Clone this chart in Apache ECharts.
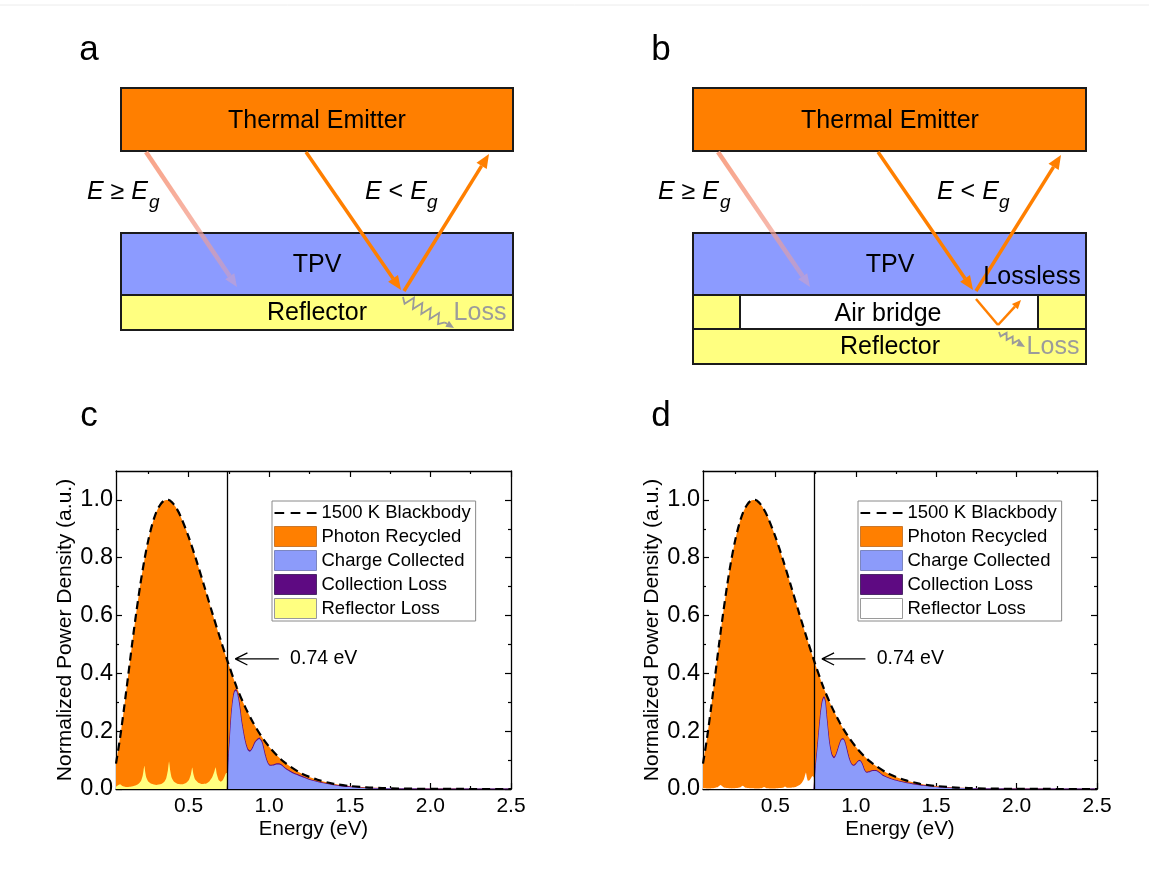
<!DOCTYPE html>
<html>
<head>
<meta charset="utf-8">
<script src="https://cdn.jsdelivr.net/npm/echarts@6/dist/echarts.min.js"></script>
<style>
  html, body { margin: 0; padding: 0; background: #fff; }
  #fig { width: 1149px; height: 872px; }
</style>
</head>
<body>
<div id="fig"></div>
<script>
// ---------- spectral data (normalized power density vs photon energy, eV) ----------
const BANDGAP = 0.74;

const energyBB = [0.05,0.075,0.1,0.125,0.15,0.175,0.2,0.225,0.25,0.275,0.3,0.325,0.35,0.375,0.4,0.425,0.45,0.5,0.55,0.6,0.65,0.7,0.74,0.8,0.85,0.9,0.95,1.0,1.05,1.1,1.2,1.3,1.4,1.5,1.6,1.7,1.8,2.0,2.2,2.5];
const blackbody = [0.088,0.176,0.28,0.39,0.502,0.607,0.704,0.789,0.86,0.916,0.958,0.984,0.998,1.0,0.99,0.971,0.944,0.873,0.788,0.697,0.604,0.514,0.445,0.35,0.285,0.23,0.184,0.146,0.115,0.09,0.054,0.032,0.018,0.0104,0.0058,0.0032,0.0018,0.0005,0.0001,0];

// panel c: TPV cell directly on the reflector
const energyCollectC = [0.74,0.745,0.75,0.757,0.765,0.775,0.785,0.794,0.803,0.815,0.83,0.85,0.865,0.881,0.895,0.915,0.939,0.955,0.975,0.99,1.005,1.025,1.045,1.063,1.08,1.1,1.129,1.155,1.179,1.21,1.253,1.3,1.35,1.4,1.45,1.5,1.55,1.6,1.7,1.8,2.0,2.5];
const chargeCollectedC = [0,0.06,0.12,0.18,0.25,0.305,0.335,0.34,0.327,0.29,0.227,0.165,0.137,0.129,0.138,0.162,0.173,0.16,0.115,0.09,0.08,0.081,0.085,0.085,0.08,0.07,0.06,0.052,0.047,0.04,0.031,0.024,0.018,0.013,0.009,0.0065,0.0045,0.003,0.0015,0.0008,0.0002,0];
const collectionLossC = [0,0.002,0.003,0.003,0.004,0.004,0.004,0.004,0.004,0.004,0.003,0.003,0.003,0.003,0.003,0.003,0.003,0.003,0.003,0.002,0.002,0.002,0.002,0.002,0.002,0.002,0.002,0.002,0.002,0.002,0.001,0.001,0.001,0.001,0.001,0.001,0,0,0,0,0,0];
const energyReflC = [0.05,0.06,0.075,0.09,0.11,0.14,0.17,0.19,0.205,0.215,0.221,0.226,0.231,0.238,0.25,0.27,0.3,0.33,0.35,0.362,0.372,0.379,0.386,0.395,0.41,0.435,0.46,0.485,0.503,0.515,0.523,0.53,0.54,0.56,0.585,0.61,0.63,0.648,0.661,0.668,0.675,0.688,0.7,0.712,0.725,0.733,0.739,0.74];
const reflectorLossC = [0.008,0.012,0.016,0.01,0.007,0.008,0.012,0.018,0.028,0.045,0.065,0.08,0.06,0.04,0.026,0.018,0.014,0.017,0.025,0.038,0.065,0.095,0.065,0.04,0.025,0.017,0.016,0.021,0.032,0.052,0.074,0.052,0.034,0.022,0.017,0.019,0.027,0.042,0.062,0.075,0.052,0.03,0.025,0.03,0.045,0.055,0.055,0];

// panel d: TPV cell on an air bridge above the reflector
const energyCollectD = [0.74,0.75,0.765,0.78,0.792,0.802,0.81,0.82,0.835,0.85,0.865,0.88,0.9,0.912,0.922,0.935,0.955,0.97,0.985,1.0,1.015,1.026,1.04,1.055,1.068,1.085,1.105,1.126,1.145,1.165,1.192,1.23,1.275,1.32,1.37,1.42,1.47,1.52,1.6,1.7,1.8,2.0,2.5];
const chargeCollectedD = [0,0.07,0.16,0.25,0.3,0.315,0.3,0.24,0.16,0.118,0.106,0.12,0.155,0.17,0.171,0.155,0.11,0.088,0.08,0.085,0.095,0.097,0.085,0.063,0.056,0.058,0.062,0.062,0.056,0.047,0.04,0.032,0.025,0.02,0.015,0.011,0.0078,0.0055,0.0032,0.0016,0.0008,0.0002,0];
const collectionLossD = [0,0.002,0.003,0.004,0.004,0.004,0.004,0.004,0.003,0.003,0.003,0.003,0.003,0.003,0.003,0.003,0.003,0.002,0.002,0.002,0.002,0.002,0.002,0.002,0.002,0.002,0.002,0.002,0.002,0.002,0.001,0.001,0.001,0.001,0.001,0.001,0,0,0,0,0,0,0];
const energyReflD = [0.05,0.1,0.14,0.16,0.18,0.23,0.28,0.297,0.315,0.37,0.415,0.43,0.445,0.5,0.545,0.56,0.575,0.62,0.65,0.665,0.678,0.686,0.69,0.696,0.703,0.712,0.722,0.73,0.739,0.74];
const reflectorLossD = [0.003,0.002,0.006,0.014,0.005,0.002,0.005,0.011,0.004,0.002,0.003,0.007,0.003,0.002,0.004,0.009,0.004,0.006,0.014,0.022,0.035,0.05,0.057,0.04,0.028,0.03,0.038,0.045,0.04,0];

// axis ticks
const xMajor = [0.5, 1.0, 1.5, 2.0, 2.5];
const xMinor = [0.25, 0.75, 1.25, 1.75, 2.25];
const yMajor = [0, 0.2, 0.4, 0.6, 0.8, 1.0];
const yMinor = [0.1, 0.3, 0.5, 0.7, 0.9];

// bandgap annotation (arrow + text), in data units
const arrowY = 0.45, arrowTip = 0.79, arrowTail = 1.06, headDx = 0.075, headDy = 0.021, noteX = 1.13;

// ---------- styling ----------
const FONT = '"Liberation Sans", Arial, Helvetica, sans-serif';
const ORANGE = '#FF7F00', BLUE = '#8C9BFA', PURPLE = '#5E0A82', YELLOW = '#FFFF80';
const TPV_BLUE = '#8C9BFF';

const zip = (xs, ys) => xs.map((x, i) => [x, ys[i]]);
// upper edge of the collection-loss band sits on top of the collected part
const addUp = (a, b) => a.map((v, i) => v + b[i]);

const chart = echarts.init(document.getElementById('fig'), null, { renderer: 'canvas' });

// ---------- axes: major/minor ticks mirrored on all four sides ----------
function xAxes(g) {
  const base = { type: 'value', gridIndex: g, min: 0.05, max: 2.5, splitLine: { show: false } };
  const line = { show: true, onZero: false, lineStyle: { color: '#000', width: 1.3 } };
  const tk = (vals, len) => ({ show: true, inside: true, length: len, customValues: vals, lineStyle: { color: '#000', width: 1.2 } });
  return [
    Object.assign({}, base, {
      position: 'bottom', axisLine: line, axisTick: tk(xMajor, 6),
      axisLabel: { show: true, customValues: xMajor, formatter: v => v.toFixed(1), margin: 7, fontSize: 21, color: '#000', fontFamily: FONT },
      name: 'Energy (eV)', nameLocation: 'middle', nameGap: 30,
      nameTextStyle: { fontSize: 20.5, color: '#000', fontFamily: FONT }
    }),
    Object.assign({}, base, { position: 'bottom', axisLine: { show: false, onZero: false }, axisTick: tk(xMinor, 3), axisLabel: { show: false } }),
    Object.assign({}, base, { position: 'top', axisLine: line, axisTick: tk(xMajor, 6), axisLabel: { show: false } }),
    Object.assign({}, base, { position: 'top', axisLine: { show: false, onZero: false }, axisTick: tk(xMinor, 3), axisLabel: { show: false } })
  ];
}
function yAxes(g) {
  const base = { type: 'value', gridIndex: g, min: 0, max: 1.1, splitLine: { show: false } };
  const line = { show: true, onZero: false, lineStyle: { color: '#000', width: 1.3 } };
  const tk = (vals, len) => ({ show: true, inside: true, length: len, customValues: vals, lineStyle: { color: '#000', width: 1.2 } });
  return [
    Object.assign({}, base, {
      position: 'left', axisLine: line, axisTick: tk(yMajor, 6),
      axisLabel: { show: true, customValues: yMajor, formatter: v => v.toFixed(1), margin: 3, fontSize: 23.5, color: '#000', fontFamily: FONT },
      name: 'Normalized Power Density (a.u.)', nameLocation: 'middle', nameRotate: 90, nameGap: 40,
      nameTextStyle: { fontSize: 21, color: '#000', fontFamily: FONT }
    }),
    Object.assign({}, base, { position: 'left', axisLine: { show: false, onZero: false }, axisTick: tk(yMinor, 3), axisLabel: { show: false } }),
    Object.assign({}, base, { position: 'right', axisLine: line, axisTick: tk(yMajor, 6), axisLabel: { show: false } }),
    Object.assign({}, base, { position: 'right', axisLine: { show: false, onZero: false }, axisTick: tk(yMinor, 3), axisLabel: { show: false } })
  ];
}

// ---------- series for one spectrum panel ----------
function panelSeries(g, p) {
  const xi = 4 * g, yi = 4 * g;
  const common = { type: 'line', xAxisIndex: xi, yAxisIndex: yi, symbol: 'none', showSymbol: false, silent: true, animation: false };
  const area = (name, data, color, z, extra) => Object.assign({}, common, {
    name, data, z,
    lineStyle: { width: 0, color },
    itemStyle: { color },
    areaStyle: { color, opacity: 1 }
  }, extra || {});
  return [
    area('Photon Recycled', zip(energyBB, blackbody), ORANGE, 2, { smooth: 0.3 }),
    area('Reflector Loss', zip(p.energyRefl, p.reflectorLoss), p.reflColor, 3, { smooth: 0.15 }),
    area('Collection Loss', zip(p.energyCollect, addUp(p.chargeCollected, p.collectionLoss)), PURPLE, 3,
      { smooth: 0.25, lineStyle: { width: 1, color: PURPLE } }),
    area('Charge Collected', zip(p.energyCollect, p.chargeCollected), BLUE, 4, { smooth: 0.25 }),
    Object.assign({}, common, {
      name: '1500 K Blackbody', z: 6, smooth: 0.3,
      data: zip(energyBB, blackbody),
      itemStyle: { color: '#000' },
      lineStyle: { color: '#000', width: 2.2, type: [8, 5] },
      markLine: {
        silent: true, symbol: ['none', 'none'], label: { show: false },
        lineStyle: { color: '#000', width: 1.3, type: 'solid' },
        data: [{ xAxis: BANDGAP }]
      }
    }),
    // arrow pointing at the bandgap
    Object.assign({}, common, {
      name: 'bandgap-arrow', z: 7,
      data: [[arrowTail, arrowY], [arrowTip, arrowY], [arrowTip + headDx, arrowY + headDy], [arrowTip, arrowY], [arrowTip + headDx, arrowY - headDy]],
      lineStyle: { color: '#000', width: 1.3 }
    }),
    {
      type: 'scatter', name: 'bandgap-note', xAxisIndex: xi, yAxisIndex: yi, z: 7, silent: true, animation: false,
      symbolSize: 0, data: [[noteX, arrowY]], itemStyle: { color: '#000' },
      label: { show: true, position: 'right', distance: 0, formatter: () => BANDGAP.toFixed(2) + ' eV',
               fontSize: 19.5, color: '#000', opacity: 1, fontFamily: FONT }
    }
  ];
}

function legendFor(left, reflColor) {
  const sw = (name, color, border) => ({ name, icon: 'rect', itemStyle: { color, borderColor: border, borderWidth: 1 } });
  return {
    left, top: 501, orient: 'vertical', selectedMode: false, z: 20,
    itemWidth: 42, itemHeight: 20, itemGap: 3, padding: [2, 5, 2, 2],
    borderColor: '#8a8a8a', borderWidth: 1, backgroundColor: '#fff',
    textStyle: { fontSize: 18.5, color: '#000', fontFamily: FONT, lineHeight: 20 },
    data: [
      { name: '1500 K Blackbody', icon: 'path://M0,0h9v2h-9z M15,0h9v2h-9z M30,0h9v2h-9z', itemStyle: { color: '#000', borderWidth: 0 } },
      sw('Photon Recycled', ORANGE, '#c9782e'),
      sw('Charge Collected', BLUE, '#7c86c0'),
      sw('Collection Loss', PURPLE, '#4a2a66'),
      sw('Reflector Loss', reflColor, '#9a9a9a')
    ]
  };
}

// ---------- schematic diagrams (panels a, b) ----------
const G = [];
function box(x, y, w, h, fill) {
  G.push({ type: 'rect', z: 1, shape: { x, y, width: w, height: h }, style: { fill, stroke: '#1b1b1b', lineWidth: 2 } });
}
function txt(text, x, y, opt) {
  G.push({ type: 'text', z: 6, x, y, style: Object.assign({ text, fill: '#000', fontSize: 25, fontFamily: FONT, align: 'center', verticalAlign: 'middle' }, opt || {}) });
}
function arrow(x1, y1, x2, y2, color, width, headLen, headW, z) {
  const a = Math.atan2(y2 - y1, x2 - x1);
  const bx = x2 - headLen * Math.cos(a), by = y2 - headLen * Math.sin(a);
  const px = -Math.sin(a) * headW, py = Math.cos(a) * headW;
  G.push({ type: 'line', z: z || 3, shape: { x1, y1, x2: bx, y2: by }, style: { stroke: color, lineWidth: width } });
  G.push({ type: 'polygon', z: z || 3, shape: { points: [[x2, y2], [bx + px, by + py], [bx - px, by - py]] }, style: { fill: color } });
}
function wavyArrow(x1, y1, x2, y2, halfWaves, amp, color) {
  const L = Math.hypot(x2 - x1, y2 - y1), ux = (x2 - x1) / L, uy = (y2 - y1) / L;
  const px = -uy, py = ux, span = L * 0.82;
  const pts = [[x1, y1]];
  for (let i = 1; i <= halfWaves; i++) {
    const t = span * i / (halfWaves + 1), s = (i % 2 ? 1 : -1) * amp;
    pts.push([x1 + ux * t + px * s, y1 + uy * t + py * s]);
  }
  const ex = x1 + ux * span, ey = y1 + uy * span;
  pts.push([ex, ey]);
  G.push({ type: 'polyline', z: 4, shape: { points: pts }, style: { stroke: color, lineWidth: 1.8, fill: null } });
  arrow(ex, ey, x2, y2, color, 1.8, 8, 3.5, 4);
}
function fadedArrow(x1, y1, x2, y2) {
  const grad = new echarts.graphic.LinearGradient(x1, y1, x2, y2, [
    { offset: 0, color: 'rgba(248,158,128,0.95)' },
    { offset: 0.55, color: 'rgba(244,158,140,0.75)' },
    { offset: 1, color: 'rgba(230,160,170,0.35)' }
  ], true);
  const a = Math.atan2(y2 - y1, x2 - x1), hl = 13, hw = 5.5;
  const bx = x2 - hl * Math.cos(a), by = y2 - hl * Math.sin(a);
  const px = -Math.sin(a) * hw, py = Math.cos(a) * hw;
  G.push({ type: 'line', z: 3, shape: { x1, y1, x2: bx, y2: by }, style: { stroke: grad, lineWidth: 4.5 } });
  G.push({ type: 'polygon', z: 3, shape: { points: [[x2, y2], [bx + px, by + py], [bx - px, by - py]] }, style: { fill: 'rgba(225,165,185,0.45)' } });
}
function energyLabel(x, y, rel) {
  G.push({ type: 'text', z: 6, x, y, style: {
    text: '{i|E} ' + rel + ' {i|E}', fill: '#000', fontSize: 25, fontFamily: FONT, align: 'left', verticalAlign: 'middle',
    rich: { i: { fontStyle: 'italic', fontSize: 25, fontFamily: FONT } } } });
}
function subG(x, y) {
  G.push({ type: 'text', z: 6, x, y, style: { text: 'g', fill: '#000', fontSize: 19, fontStyle: 'italic', fontFamily: FONT, align: 'left', verticalAlign: 'middle' } });
}
const letter = (t, x, y) => txt(t, x, y, { fontSize: 35 });

// thin rule along the top edge
G.push({ type: 'line', z: 0, shape: { x1: 0, y1: 5, x2: 1149, y2: 5 }, style: { stroke: '#ececec', lineWidth: 1 } });

// panel a
letter('a', 89, 50);
box(121, 88, 392, 63, ORANGE);
box(121, 233, 392, 62, TPV_BLUE);
box(121, 295, 392, 35, YELLOW);
txt('Thermal Emitter', 317, 121);
txt('TPV', 317, 265);
txt('Reflector', 317, 313);
fadedArrow(146, 152, 237, 287);
arrow(306, 152, 401, 290, ORANGE, 3.5, 14, 6);
arrow(404, 291, 489, 154, ORANGE, 3.5, 14, 6);
energyLabel(87, 192, '≥'); subG(149, 203);
energyLabel(365, 192, '<'); subG(427, 203);
wavyArrow(403, 297, 454, 328, 9, 5, '#9a9a9a');
txt('Loss', 480, 313, { fill: '#9b9b9b' });

// panel b
letter('b', 661, 50);
box(693, 88, 393, 63, ORANGE);
box(693, 233, 393, 62, TPV_BLUE);
box(693, 295, 47, 34, YELLOW);
box(740, 295, 298, 34, '#ffffff');
box(1038, 295, 48, 34, YELLOW);
box(693, 329, 393, 35, YELLOW);
txt('Thermal Emitter', 890, 121);
txt('TPV', 890, 265);
txt('Lossless', 1032, 277);
txt('Air bridge', 888, 314);
txt('Reflector', 890, 347);
fadedArrow(718, 152, 810, 287);
arrow(878, 152, 973, 290, ORANGE, 3.5, 14, 6);
arrow(976, 291, 1061, 155, ORANGE, 3.5, 14, 6);
G.push({ type: 'line', z: 3, shape: { x1: 976, y1: 299, x2: 998, y2: 325 }, style: { stroke: ORANGE, lineWidth: 2.5 } });
arrow(998, 325, 1021, 300, ORANGE, 2.5, 9, 4);
energyLabel(658, 192, '≥'); subG(720, 203);
energyLabel(937, 192, '<'); subG(999, 203);
wavyArrow(999, 332, 1025, 347, 6, 3, '#9a9a9a');
txt('Loss', 1053, 347, { fill: '#9b9b9b' });

// panels c, d letters
letter('c', 89, 416);
letter('d', 661, 416);

// ---------- assemble ----------
const option = {
  animation: false,
  backgroundColor: '#ffffff',
  textStyle: { fontFamily: FONT },
  grid: [
    { left: 116, top: 471, width: 395, height: 318, outerBoundsMode: 'none', containLabel: false },
    { left: 703, top: 471, width: 394, height: 318, outerBoundsMode: 'none', containLabel: false }
  ],
  xAxis: xAxes(0).concat(xAxes(1)),
  yAxis: yAxes(0).concat(yAxes(1)),
  legend: [legendFor(272, YELLOW), legendFor(858, '#ffffff')],
  series: panelSeries(0, {
    energyCollect: energyCollectC, chargeCollected: chargeCollectedC, collectionLoss: collectionLossC,
    energyRefl: energyReflC, reflectorLoss: reflectorLossC, reflColor: YELLOW
  }).concat(panelSeries(1, {
    energyCollect: energyCollectD, chargeCollected: chargeCollectedD, collectionLoss: collectionLossD,
    energyRefl: energyReflD, reflectorLoss: reflectorLossD, reflColor: '#ffffff'
  })),
  graphic: G
};
chart.setOption(option);
</script>
</body>
</html>
